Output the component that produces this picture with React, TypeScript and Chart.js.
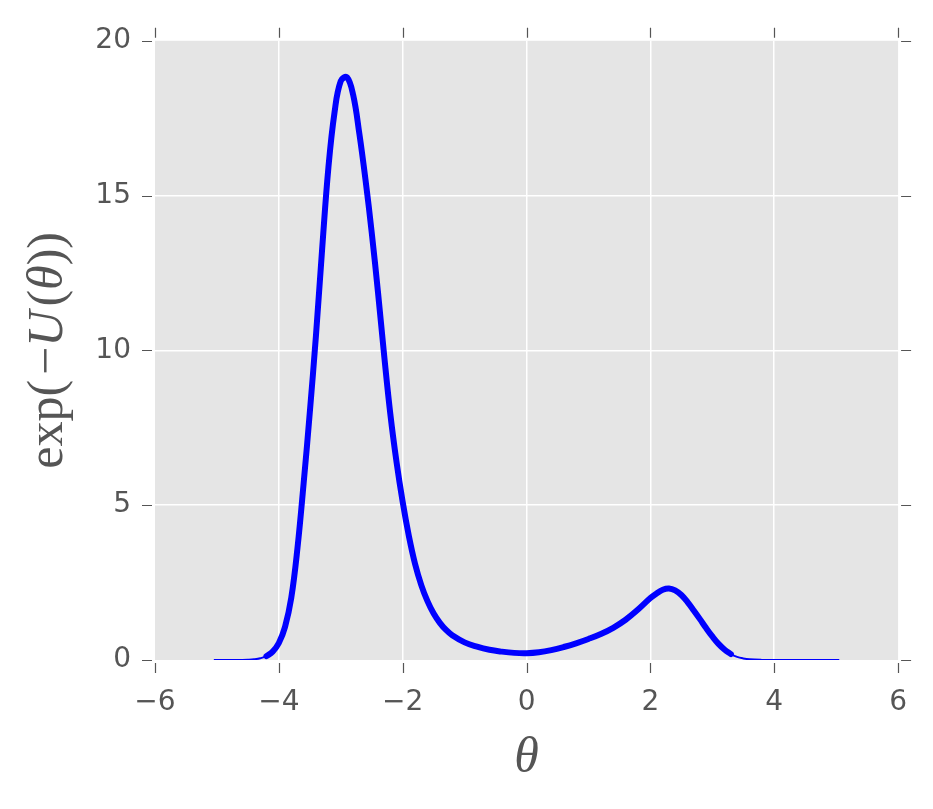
import React, { useEffect, useRef } from "react";
import { Chart, registerables } from "chart.js";

Chart.register(...registerables);

// Main curve (drawn thick)
const thetaMain = [-4.2, -4.1, -4.0, -3.9, -3.8, -3.7, -3.6, -3.5, -3.4, -3.3, -3.2, -3.1, -3.0, -2.9, -2.8, -2.7, -2.6, -2.5, -2.4, -2.3, -2.2, -2.1, -2.0, -1.9, -1.8, -1.7, -1.6, -1.5, -1.4, -1.3, -1.2, -1.0, -0.8, -0.6, -0.4, -0.2, 0, 0.2, 0.4, 0.6, 0.8, 1.0, 1.2, 1.4, 1.6, 1.8, 2.0, 2.1, 2.2, 2.3, 2.4, 2.5, 2.6, 2.7, 2.8, 2.9, 3.0, 3.1, 3.2, 3.3];
const valueMain = [0.125, 0.27, 0.55, 1.07, 2.0, 3.6, 5.7, 8.0, 10.5, 13.3, 15.9, 17.7, 18.7, 18.82, 18.25, 17.0, 15.5, 13.8, 11.9, 9.85, 7.95, 6.4, 5.1, 4.0, 3.1, 2.42, 1.9, 1.5, 1.2, 0.97, 0.8, 0.57, 0.43, 0.33, 0.27, 0.23, 0.22, 0.25, 0.32, 0.42, 0.54, 0.68, 0.84, 1.04, 1.3, 1.63, 2.0, 2.15, 2.27, 2.31, 2.25, 2.1, 1.87, 1.6, 1.32, 1.03, 0.76, 0.52, 0.33, 0.19];

// Tails (drawn thin together with the main curve)
const thetaLeftTail = [-5.05, -4.8, -4.6, -4.5, -4.4, -4.3];
const valueLeftTail = [0, 0.0002, 0.003, 0.008, 0.022, 0.055];
const thetaRightTail = [3.4, 3.5, 3.6, 3.8, 4.0, 4.5, 5.05];
const valueRightTail = [0.1, 0.05, 0.022, 0.004, 0.0006, 0, 0];

const xTicks = [-6, -4, -2, 0, 2, 4, 6];
const yTicks = [0, 5, 10, 15, 20];

const GRAY = "#555555";
const SERIF = "'Liberation Serif', 'Times New Roman', serif";

const toPoints = (xs: number[], ys: number[]) => xs.map((x, i) => ({ x, y: ys[i] }));

export default function App() {
  const ref = useRef<HTMLCanvasElement | null>(null);

  useEffect(() => {
    document.body.style.margin = "0";
    const canvas = ref.current!;
    const bgPlugin = {
      id: "bg",
      beforeDraw(chart: any) {
        const { ctx, chartArea: a } = chart;
        ctx.save();
        ctx.fillStyle = "#E5E5E5";
        ctx.fillRect(a.left, a.top, a.right - a.left, a.bottom - a.top);
        ctx.restore();
      },
    };
    const decoPlugin = {
      id: "deco",
      afterDraw(chart: any) {
        const { ctx, chartArea: a, scales } = chart;
        const xs = scales.x;
        const ys = scales.y;
        ctx.save();
        ctx.strokeStyle = GRAY;
        ctx.lineWidth = 1.2;
        const gap = 3;
        const len = 10;
        ctx.beginPath();
        for (const t of xTicks) {
          const px = Math.round(xs.getPixelForValue(t)) + 0.5;
          ctx.moveTo(px, a.bottom + gap);
          ctx.lineTo(px, a.bottom + gap + len);
          ctx.moveTo(px, a.top - gap);
          ctx.lineTo(px, a.top - gap - len);
        }
        for (const t of yTicks) {
          const py = Math.round(ys.getPixelForValue(t)) + 0.5;
          ctx.moveTo(a.left - gap, py);
          ctx.lineTo(a.left - gap - len, py);
          ctx.moveTo(a.right + gap, py);
          ctx.lineTo(a.right + gap + len, py);
        }
        ctx.stroke();

        // x-axis title
        ctx.fillStyle = GRAY;
        ctx.textAlign = "center";
        ctx.textBaseline = "alphabetic";
        ctx.font = `italic 50px ${SERIF}`;
        ctx.fillText("θ", (a.left + a.right) / 2, 772);

        // y-axis title with mixed fonts
        const parts: [string, boolean, number][] = [
          ["exp(", false, 0],
          ["−", false, 5],
          ["U", true, 4],
          ["(", false, 0],
          ["θ", true, 0],
          ["))", false, 0],
        ];
        const roman = `50px ${SERIF}`;
        const ital = `italic 50px ${SERIF}`;
        let total = 0;
        const widths: number[] = [];
        for (const [s, it, sp] of parts) {
          ctx.font = it ? ital : roman;
          const w = ctx.measureText(s).width;
          widths.push(w);
          total += w + sp;
        }
        ctx.translate(62, (a.top + a.bottom) / 2);
        ctx.rotate(-Math.PI / 2);
        ctx.textAlign = "left";
        let cx = -total / 2;
        parts.forEach(([s, it, sp], i) => {
          ctx.font = it ? ital : roman;
          if (s === "−") cx += sp;
          ctx.fillText(s, cx, 0);
          cx += widths[i];
          if (s !== "−") cx += sp;
        });
        ctx.restore();
      },
    };

    const chart = new Chart(canvas, {
      type: "scatter",
      data: {
        datasets: [
          {
            data: toPoints(thetaMain, valueMain),
            showLine: true,
            borderColor: "#0000FF",
            borderWidth: 6,
            pointRadius: 0,
            tension: 0.4,
            borderCapStyle: "round",
            borderJoinStyle: "round",
          },
          {
            data: toPoints(
              [...thetaLeftTail, ...thetaMain, ...thetaRightTail],
              [...valueLeftTail, ...valueMain, ...valueRightTail]
            ),
            showLine: true,
            borderColor: "#0000FF",
            borderWidth: 2,
            pointRadius: 0,
            tension: 0.4,
          },
        ],
      },
      options: {
        animation: false,
        responsive: false,
        devicePixelRatio: 1,
        layout: { padding: { left: 0, top: 40, right: 32, bottom: 0 } },
        plugins: { legend: { display: false }, tooltip: { enabled: false } },
        scales: {
          x: {
            type: "linear",
            min: -6,
            max: 6,
            afterBuildTicks: (s: any) => {
              s.ticks = xTicks.map((v) => ({ value: v }));
            },
            afterFit: (s: any) => {
              s.height = 149;
            },
            border: { display: false },
            grid: {
              color: (c: any) =>
                c.tick && (c.tick.value === -6 || c.tick.value === 6) ? "rgba(0,0,0,0)" : "#FFFFFF",
              lineWidth: 1.5,
              drawTicks: false,
            },
            ticks: {
              color: GRAY,
              padding: 26,
              maxRotation: 0,
              font: { family: "'DejaVu Sans'", size: 28 },
              callback: (v: any) => String(v).replace("-", "−"),
            },
          },
          y: {
            type: "linear",
            min: 0,
            max: 20,
            afterBuildTicks: (s: any) => {
              s.ticks = yTicks.map((v) => ({ value: v }));
            },
            afterFit: (s: any) => {
              s.width = 155;
            },
            border: { display: false },
            grid: {
              color: (c: any) =>
                c.tick && (c.tick.value === 0 || c.tick.value === 20) ? "rgba(0,0,0,0)" : "#FFFFFF",
              lineWidth: 1.5,
              drawTicks: false,
            },
            ticks: {
              color: GRAY,
              padding: 24,
              font: { family: "'DejaVu Sans'", size: 28 },
              callback: (v: any) => String(v),
            },
          },
        },
      },
      plugins: [bgPlugin, decoPlugin],
    } as any);
    return () => chart.destroy();
  }, []);

  return (
    <div style={{ width: 933, height: 809, background: "#FFFFFF" }}>
      <canvas ref={ref} width={933} height={809} style={{ display: "block", width: 933, height: 809 }} />
    </div>
  );
}
